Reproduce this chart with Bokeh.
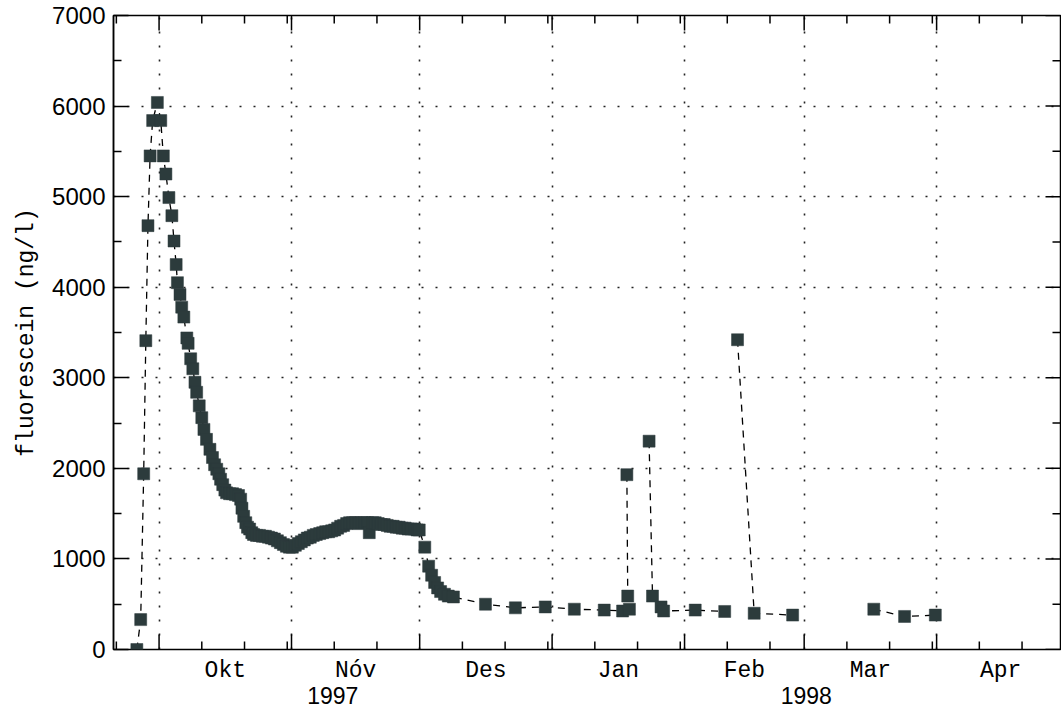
import math
import pandas as pd
from bokeh.plotting import figure
from bokeh.models import Range1d, LinearAxis, FixedTicker, Grid
from bokeh.embed import file_html
from bokeh.resources import INLINE

# Sampling times (days after 1 October 1997) and fluorescein concentration (ng/l)
day = [
    -5.2, -4.3, -3.6, -3.1, -2.6, -2.1, -1.5, -0.4, 0.4, 1.0,
    1.6, 2.3, 3.0, 3.5, 4.0, 4.3, 4.9, 5.3, 5.8, 6.5,
    6.8, 7.4, 7.9, 8.4, 8.8, 9.4, 10.0, 10.5, 11.1, 11.9,
    12.5, 13.0, 13.5, 14.0, 14.4, 14.9, 15.4, 15.8, 16.5, 17.2,
    17.9, 18.6, 19.1, 19.4, 19.8, 20.3, 20.7, 21.2, 21.7, 22.1,
    22.8, 23.5, 24.2, 24.9, 25.6, 26.3, 27.0, 27.7, 28.4, 29.1,
    29.8, 30.5, 31.2, 31.9, 32.6, 33.3, 34.0, 34.7, 35.4, 36.1,
    36.8, 37.6, 38.3, 39.0, 39.7, 40.4, 41.1, 41.8, 42.5, 43.2,
    43.9, 44.6, 45.3, 46.0, 46.7, 47.4, 48.1, 48.8, 49.2, 50.0,
    50.6, 51.3, 52.0, 52.7, 53.4, 54.1, 54.8, 55.5, 56.2, 56.9,
    57.6, 58.3, 59.0, 59.8, 60.4, 60.9, 62.2, 63.1, 63.8, 64.5,
    65.2, 65.9, 66.8, 67.7, 68.9, 76.4, 83.4, 90.4, 97.2, 104.2,
    108.5, 109.5, 109.7, 110.1, 114.7, 115.5, 117.5, 118.1, 125.5, 132.4,
    135.4, 139.3, 148.3, 167.3, 174.5, 181.7,
]
conc = [
    0, 330, 1940, 3410, 4680, 5450, 5840, 6040, 5840, 5450,
    5250, 4990, 4790, 4510, 4250, 4050, 3920, 3780, 3670, 3440,
    3380, 3210, 3100, 2950, 2840, 2690, 2560, 2430, 2320, 2210,
    2120, 2040, 1990, 1940, 1880, 1820, 1760, 1730, 1720, 1720,
    1710, 1700, 1660, 1560, 1470, 1400, 1350, 1330, 1290, 1270,
    1260, 1260, 1250, 1250, 1240, 1230, 1220, 1200, 1180, 1160,
    1140, 1130, 1130, 1150, 1170, 1190, 1210, 1230, 1240, 1260,
    1270, 1280, 1290, 1300, 1300, 1310, 1320, 1340, 1360, 1370,
    1390, 1400, 1400, 1400, 1390, 1400, 1400, 1400, 1290, 1400,
    1400, 1390, 1380, 1380, 1370, 1360, 1360, 1350, 1350, 1340,
    1340, 1330, 1330, 1330, 1320, 1320, 1130, 920, 820, 740,
    680, 640, 610, 590, 580, 500, 460, 470, 445, 435,
    425, 1930, 590, 445, 2300, 590, 470, 425, 435, 420,
    3420, 400, 380, 445, 365, 380,
]
# Samples that begin a new run of the connecting line
run_start_days = [109.5, 114.7, 135.4, 167.3]

month_labels = ["Okt", "Nóv", "Des", "Jan", "Feb", "Mar", "Apr"]
y_ticks = [0, 1000, 2000, 3000, 4000, 5000, 6000, 7000]

origin = pd.Timestamp("1997-10-01")
x_start = pd.Timestamp("1997-09-20 08:00")
x_end = pd.Timestamp("1998-04-30 00:00")


def ms(ts):
    return int(pd.Timestamp(ts).value // 10**6)


t_ms = [ms(origin + pd.Timedelta(days=d)) for d in day]
x_lo, x_hi = ms(x_start), ms(x_end)

# Month boundaries (major ticks / grid), 11th, 21st and 31st (minor ticks)
month_starts = pd.date_range("1997-09-01", "1998-05-01", freq="MS")
boundary_ticks = [ms(t) for t in month_starts if x_lo <= ms(t) <= x_hi]
ten_day_ticks = []
for t in month_starts:
    for k in (10, 20, 30):
        tt = t + pd.Timedelta(days=k)
        if tt.month == t.month and x_lo <= ms(tt) <= x_hi:
            ten_day_ticks.append(ms(tt))

# Month names centred in their month
label_months = pd.date_range("1997-10-01", periods=len(month_labels) + 1, freq="MS")
mid_ticks = [ms(a + (b - a) / 2) for a, b in zip(label_months[:-1], label_months[1:])]
month_overrides = {m: name for m, name in zip(mid_ticks, month_labels)}

# Year captions centred on the visible part of each year
year_overrides = {}
for yr in (1997, 1998):
    a = max(x_start, pd.Timestamp(f"{yr}-01-01"))
    b = min(x_end, pd.Timestamp(f"{yr + 1}-01-01"))
    year_overrides[ms(a + (b - a) / 2)] = str(yr)

p = figure(
    width=1061, height=713,
    x_range=Range1d(x_lo, x_hi),
    y_range=Range1d(0, 7000),
    x_axis_type=None, y_axis_type=None,
    output_backend="svg", toolbar_location=None,
    min_border_left=113, min_border_right=1,
    min_border_top=15, min_border_bottom=64,
    background_fill_color="white", border_fill_color="white",
)
p.outline_line_color = "black"
p.outline_line_width = 1.5

# Left axis with values and title, ticks pointing inwards
y_minor = [v + 500 for v in y_ticks[:-1]]
left = LinearAxis(
    ticker=FixedTicker(ticks=y_ticks, minor_ticks=y_minor),
    axis_line_color="black", axis_line_width=1.5,
    major_tick_in=15, major_tick_out=0,
    minor_tick_in=8, minor_tick_out=0,
    major_tick_line_color="black", minor_tick_line_color="black",
    major_tick_line_width=1.5, minor_tick_line_width=1.5,
    major_label_text_font="Liberation Sans", major_label_text_font_size="24px",
    major_label_text_color="black", major_label_standoff=8,
    axis_label="fluorescein (ng/l)",
    axis_label_text_font="Liberation Mono", axis_label_text_font_size="23px",
    axis_label_text_font_style="normal", axis_label_text_color="black",
    axis_label_standoff=9,
)
p.add_layout(left, "left")

month_axis = LinearAxis(
    ticker=FixedTicker(ticks=mid_ticks, minor_ticks=[]),
    major_label_overrides=month_overrides,
    axis_line_color=None, major_tick_line_color=None, minor_tick_line_color=None,
    major_tick_in=0, major_tick_out=0,
    major_label_standoff=8,
    major_label_text_font="Liberation Mono", major_label_text_font_size="23px",
    major_label_text_color="black",
)
p.add_layout(month_axis, "below")

year_axis = LinearAxis(
    ticker=FixedTicker(ticks=list(year_overrides.keys()), minor_ticks=[]),
    major_label_overrides=year_overrides,
    axis_line_color=None, major_tick_line_color=None, minor_tick_line_color=None,
    major_tick_in=0, major_tick_out=0,
    major_label_standoff=0,
    major_label_text_font="Liberation Sans", major_label_text_font_size="23px",
    major_label_text_color="black",
)
p.add_layout(year_axis, "below")

# Dotted grid at month boundaries and every 1000 ng/l
p.add_layout(Grid(dimension=0, ticker=FixedTicker(ticks=boundary_ticks),
                  grid_line_color="#222222", grid_line_width=1.6,
                  grid_line_dash="2 12"))
p.add_layout(Grid(dimension=1, ticker=FixedTicker(ticks=y_ticks[1:-1]),
                  grid_line_color="#222222", grid_line_width=1.6,
                  grid_line_dash="2 12"))


# Inward tick marks on the bottom, top and right frame edges
def edge_ticks(xs, ys, length, angle):
    p.ray(x=xs, y=ys, length=length, length_units="screen", angle=angle,
          line_color="black", line_width=1.5)


edge_ticks(boundary_ticks, [0] * len(boundary_ticks), 15, math.pi / 2)
edge_ticks(ten_day_ticks, [0] * len(ten_day_ticks), 8, math.pi / 2)
edge_ticks(boundary_ticks, [7000] * len(boundary_ticks), 15, -math.pi / 2)
edge_ticks(ten_day_ticks, [7000] * len(ten_day_ticks), 8, -math.pi / 2)
edge_ticks([x_hi] * len(y_ticks), y_ticks, 15, math.pi)
edge_ticks([x_hi] * len(y_minor), y_minor, 8, math.pi)

# Dashed connecting line, split into runs
xs, ys = [[]], [[]]
for d, t, c in zip(day, t_ms, conc):
    if d in run_start_days and xs[-1]:
        xs.append([])
        ys.append([])
    xs[-1].append(t)
    ys[-1].append(c)
p.multi_line(xs, ys, line_color="black", line_width=1.3, line_dash="7 6")

p.scatter(t_ms, conc, marker="square", size=12,
          fill_color="#2c3b3c", line_color="#2c3b3c", line_width=0.5)

open("out.html", "w").write(file_html(p, INLINE))
